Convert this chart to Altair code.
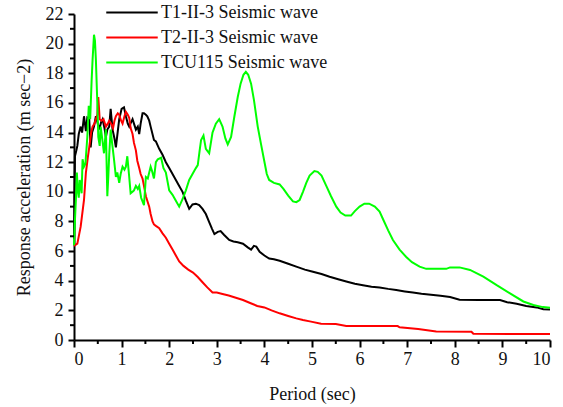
import altair as alt
import pandas as pd

series_names = ["T1-II-3 Seismic wave", "T2-II-3 Seismic wave", "TCU115 Seismic wave"]
series_colors = ["#000000", "#ff0000", "#00ff00"]

black_x = [0, 0.02, 0.05, 0.07, 0.1, 0.14, 0.17, 0.21, 0.25, 0.28, 0.32, 0.35, 0.38, 0.42, 0.46, 0.5,
           0.53, 0.57, 0.6, 0.64, 0.67, 0.7, 0.74, 0.77, 0.81, 0.85, 0.88, 0.92, 0.95, 1.0, 1.05, 1.09,
           1.13, 1.16, 1.2, 1.23, 1.27, 1.3, 1.34, 1.37, 1.4, 1.44, 1.47, 1.51, 1.54, 1.58, 1.61, 1.68,
           1.72, 1.79, 1.86, 1.93, 2.0, 2.07, 2.14, 2.21, 2.28, 2.35, 2.42, 2.49, 2.56, 2.63, 2.7, 2.77,
           2.84, 2.9, 2.95, 3.02, 3.08, 3.15, 3.26, 3.35, 3.44, 3.55, 3.65, 3.72, 3.78, 3.83, 3.9, 4.0,
           4.1, 4.2, 4.32, 4.5, 4.67, 4.85, 5.02, 5.2, 5.37, 5.55, 5.72, 5.9, 6.07, 6.25, 6.42, 6.6,
           6.77, 6.95, 7.12, 7.3, 7.5, 7.7, 7.9, 8.1, 8.5, 8.95, 9.1, 9.3, 9.5, 9.72, 9.86, 10]
black_y = [6.8, 12.4, 12.8, 13.1, 13.9, 14.4, 14.0, 15.1, 14.1, 15.0, 14.9, 13.0, 14.0, 14.4, 15.1, 14.6,
           14.2, 14.7, 14.9, 14.3, 13.7, 14.2, 14.4, 15.6, 14.2, 13.6, 13.0, 14.1, 14.9, 15.6, 15.7, 15.1,
           14.6, 14.4, 14.7, 14.9, 14.5, 14.2, 14.4, 13.9, 14.6, 15.3, 15.3, 15.2, 15.1, 14.8, 14.4, 13.5,
           13.4, 12.9, 12.5, 12.0, 11.6, 11.2, 10.8, 10.4, 10.0, 9.4, 8.85, 9.15, 9.2, 9.1, 8.85, 8.5,
           7.95, 7.5, 7.15, 7.3, 7.35, 7.1, 6.75, 6.65, 6.6, 6.5, 6.25, 6.1, 6.35, 6.3, 5.95, 5.7,
           5.5, 5.45, 5.35, 5.15, 4.95, 4.75, 4.6, 4.45, 4.27, 4.1, 3.95, 3.8, 3.7, 3.6, 3.55, 3.45,
           3.37, 3.28, 3.2, 3.12, 3.05, 2.98, 2.9, 2.72, 2.7, 2.7, 2.55, 2.45, 2.3, 2.2, 2.07, 2.05]

red_x = [0, 0.07, 0.14, 0.21, 0.25, 0.29, 0.32, 0.36, 0.39, 0.43, 0.46, 0.49, 0.51, 0.54, 0.58, 0.62,
         0.67, 0.71, 0.74, 0.78, 0.82, 0.85, 0.88, 0.92, 0.95, 0.99, 1.02, 1.06, 1.09, 1.13, 1.16, 1.19,
         1.23, 1.26, 1.3, 1.33, 1.37, 1.4, 1.44, 1.47, 1.51, 1.55, 1.58, 1.61, 1.65, 1.68, 1.72, 1.79,
         1.86, 1.93, 2.0, 2.07, 2.14, 2.21, 2.3, 2.4, 2.5, 2.6, 2.7, 2.8, 2.91, 3.0, 3.12, 3.25, 3.4,
         3.55, 3.7, 3.85, 4.0, 4.15, 4.32, 4.5, 4.67, 4.81, 4.98, 5.19, 5.5, 5.72, 6.8, 6.84, 7.23, 7.61,
         8.35, 8.39, 10]
red_y = [6.35, 6.5, 7.65, 9.45, 11.3, 12.3, 13.0, 14.0, 14.4, 14.6, 14.9, 15.2, 16.4, 14.9, 14.8, 14.9,
         14.4, 14.6, 14.8, 14.6, 14.3, 14.8, 15.1, 15.3, 15.2, 14.8, 14.6, 15.1, 15.4, 15.2, 15.0, 14.3,
         13.9, 13.3, 12.8, 12.1, 11.6, 11.2, 10.9, 10.4, 9.7, 9.3, 9.0, 8.5, 8.0, 7.8, 7.7, 7.55,
         7.2, 6.9, 6.5, 6.1, 5.7, 5.3, 5.0, 4.75, 4.55, 4.25, 3.9, 3.55, 3.2, 3.2, 3.1, 3.0, 2.85,
         2.7, 2.5, 2.3, 2.2, 2.0, 1.8, 1.62, 1.46, 1.35, 1.24, 1.1, 1.08, 0.94, 0.94, 0.86, 0.74, 0.58,
         0.56, 0.42, 0.4]

green_x = [0, 0.02, 0.04, 0.06, 0.08, 0.1, 0.12, 0.14, 0.16, 0.18, 0.21, 0.24, 0.28, 0.31, 0.34, 0.37,
           0.39, 0.42, 0.44, 0.46, 0.49, 0.51, 0.54, 0.56, 0.6, 0.63, 0.67, 0.7, 0.72, 0.74, 0.77, 0.8,
           0.84, 0.88, 0.91, 0.95, 0.98, 1.02, 1.06, 1.09, 1.12, 1.16, 1.19, 1.23, 1.26, 1.3, 1.34, 1.37,
           1.41, 1.47, 1.51, 1.55, 1.61, 1.64, 1.68, 1.72, 1.76, 1.83, 1.88, 1.93, 2.0, 2.07, 2.14, 2.21,
           2.28, 2.35, 2.42, 2.49, 2.56, 2.6, 2.64, 2.67, 2.72, 2.77, 2.84, 2.91, 2.98, 3.05, 3.12, 3.18,
           3.23, 3.3, 3.37, 3.44, 3.5, 3.56, 3.61, 3.66, 3.72, 3.78, 3.86, 3.93, 3.99, 4.05, 4.1, 4.2,
           4.32, 4.4, 4.5, 4.6, 4.67, 4.74, 4.81, 4.88, 4.95, 5.05, 5.12, 5.2, 5.3, 5.4, 5.51, 5.6, 5.7,
           5.82, 5.9, 6.0, 6.1, 6.2, 6.32, 6.42, 6.5, 6.6, 6.7, 6.84, 6.98, 7.1, 7.26, 7.4, 7.6, 7.82,
           7.9, 8.1, 8.32, 8.6, 8.88, 9.16, 9.44, 9.65, 9.85, 10]
green_y = [6.4, 8.1, 9.5, 11.3, 10.1, 9.6, 10.8, 10.4, 9.9, 12.2, 11.7, 11.9, 13.7, 15.8, 14.9, 17.5,
           18.9, 20.6, 20.2, 18.9, 16.0, 13.7, 13.1, 14.4, 13.4, 12.6, 14.2, 9.7, 11.0, 12.5, 14.2, 13.3,
           12.2, 11.0, 11.3, 10.6, 11.2, 11.7, 11.5, 11.7, 12.4, 11.0, 9.9, 10.0, 10.1, 10.4, 10.2, 10.4,
           9.6, 9.1, 11.0, 10.9, 11.7, 11.4, 10.9, 12.0, 12.2, 12.3, 11.6, 11.3, 10.1, 9.8, 9.4, 9.0,
           9.5, 10.1, 10.8, 11.2, 11.6, 11.8, 12.8, 13.5, 13.8, 12.9, 12.6, 14.0, 14.6, 14.9, 14.4, 13.6,
           13.2, 13.7, 15.1, 16.4, 17.3, 17.9, 18.1, 17.9, 17.3, 16.2, 14.4, 13.2, 12.2, 11.2, 10.8, 10.6,
           10.5, 10.2, 9.75, 9.35, 9.3, 9.45, 10.0, 10.6, 11.1, 11.4, 11.35, 11.1, 10.4, 9.7, 9.0, 8.6, 8.4,
           8.4, 8.7, 9.0, 9.2, 9.2, 9.0, 8.66, 8.1, 7.4, 6.75, 6.1, 5.6, 5.25, 4.95, 4.8, 4.8, 4.8,
           4.9, 4.9, 4.73, 4.28, 3.7, 3.15, 2.6, 2.36, 2.22, 2.18]

x_major_ticks = list(range(0, 11))
x_minor_ticks = [0.5, 1.5, 2.5, 3.5, 4.5, 5.5, 6.5, 7.5, 8.5, 9.5]
y_major_ticks = list(range(0, 23, 2))
y_minor_ticks = list(range(1, 22, 2))

rows = []
for name, xs_, ys_ in zip(series_names, [black_x, red_x, green_x], [black_y, red_y, green_y]):
    for i, (a, b) in enumerate(zip(xs_, ys_)):
        rows.append({"series": name, "period": a, "acc": b, "order": i})
df = pd.DataFrame(rows)

FONT = "'Liberation Serif', 'Times New Roman', serif"
xscale = alt.Scale(domain=[0, 10], nice=False, zero=False)
yscale = alt.Scale(domain=[0, 22], nice=False)
common_axis = dict(labelFont=FONT, labelFontSize=18, labelColor="#111",
                   titleFont=FONT, titleFontSize=18, titleFontWeight="normal", titleColor="#111",
                   domainColor="black", domainWidth=2, tickColor="black", tickWidth=2,
                   grid=False, format="d")
xaxis = alt.Axis(values=x_major_ticks, title="Period (sec)", tickSize=7,
                 labelPadding=3, titlePadding=17, **common_axis)
yaxis = alt.Axis(values=y_major_ticks, title="Response acceleration (m sec\u22122)",
                 tickSize=6, labelPadding=5, titlePadding=12, **common_axis)

lines = alt.Chart(df).mark_line(strokeWidth=2).encode(
    x=alt.X("period:Q", scale=xscale, axis=xaxis),
    y=alt.Y("acc:Q", scale=yscale, axis=yaxis),
    color=alt.Color("series:N",
                    scale=alt.Scale(domain=series_names, range=series_colors),
                    legend=alt.Legend(orient="none", legendX=31, legendY=-14, title=None,
                                      symbolType="stroke", symbolSize=2650, symbolStrokeWidth=2,
                                      clipHeight=25, rowPadding=0, padding=0,
                                      labelFont=FONT, labelFontSize=18, labelColor="#111",
                                      labelOffset=2, labelLimit=0)),
    order="order:Q",
)

xminor = alt.Chart(pd.DataFrame({"v": x_minor_ticks})).mark_rule(color="black", strokeWidth=2).encode(
    x=alt.X("v:Q", scale=xscale, axis=xaxis),
    y=alt.value(326), y2=alt.value(330),
)
yminor = alt.Chart(pd.DataFrame({"v": y_minor_ticks})).mark_rule(color="black", strokeWidth=2).encode(
    y=alt.Y("v:Q", scale=yscale, axis=yaxis),
    x=alt.value(-4), x2=alt.value(0),
)

chart = alt.layer(lines, xminor, yminor).properties(
    width=476, height=326,
    padding={"left": 74, "top": 14, "right": 13, "bottom": 67},
    autosize=alt.AutoSizeParams(type="none"),
).configure_view(stroke=None).configure_axis(
    labelFont=FONT, titleFont=FONT,
)

chart.save("out.html", embed_options={"renderer": "svg", "actions": False})
